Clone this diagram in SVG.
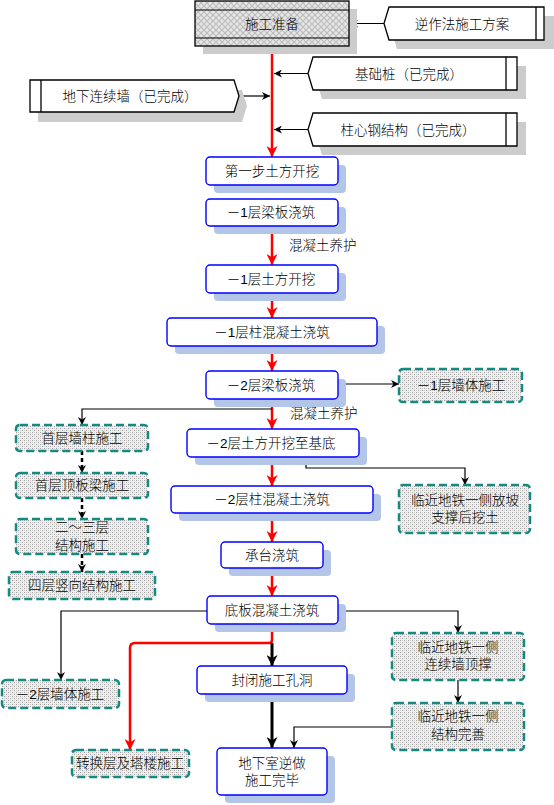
<svg xmlns="http://www.w3.org/2000/svg" width="554" height="805" viewBox="0 0 554 805">
<style>
text{font-family:"Liberation Sans","Noto Sans CJK SC",sans-serif;font-size:13.5px;font-weight:300;fill:#000;text-anchor:middle;dominant-baseline:central}
.lbl{text-anchor:start}
.flag{fill:#fff;stroke:#000;stroke-width:1.3}
.fshadow{fill:#cccccc}
.blue{fill:#fff;stroke:#0000ff;stroke-width:1.4}
.bshadow{fill:#b4c6e7}
.teal{fill:url(#dots);stroke:#138a82;stroke-width:2.5;stroke-dasharray:8 4}
.thin{fill:none;stroke:#000;stroke-width:1.2}
.thick{fill:none;stroke:#000;stroke-width:3}
.dash{fill:none;stroke:#000;stroke-width:2.5;stroke-dasharray:4 3}
.red{fill:none;stroke:#ff0000;stroke-width:2.5}
</style>
<defs>
<pattern id="hatch" width="6" height="6" patternUnits="userSpaceOnUse">
<rect width="6" height="6" fill="#e6e6e6"/>
<path d="M0,0 L6,6 M6,0 L0,6" stroke="#bdbdbd" stroke-width="1.2"/>
</pattern>
<pattern id="dots" width="4" height="4" patternUnits="userSpaceOnUse">
<rect width="4" height="4" fill="#f0f0f0"/>
<rect x="0" y="0" width="1" height="1" fill="#a0a0a0"/>
<rect x="2" y="2" width="1" height="1" fill="#a0a0a0"/>
<rect x="2" y="0" width="1" height="1" fill="#d0d0d0"/>
<rect x="0" y="2" width="1" height="1" fill="#d0d0d0"/>
</pattern>
<marker id="ab" viewBox="0 0 10 10" refX="10" refY="5" markerWidth="8" markerHeight="8" markerUnits="userSpaceOnUse" orient="auto">
<path d="M0,0 L10,5 L0,10 L3,5 z" fill="#000"/>
</marker>
<marker id="abk" viewBox="0 0 10 10" refX="10" refY="5" markerWidth="11" markerHeight="11" markerUnits="userSpaceOnUse" orient="auto">
<path d="M0,0 L10,5 L0,10 L3,5 z" fill="#000"/>
</marker>
<marker id="ar" viewBox="0 0 10 10" refX="10" refY="5" markerWidth="11" markerHeight="11" markerUnits="userSpaceOnUse" orient="auto">
<path d="M0,0 L10,5 L0,10 L3,5 z" fill="#ff0000"/>
</marker>
</defs>

<g id="connectors">
<path class="red" d="M272,46 V157" marker-end="url(#ar)"/>
<path class="thin" d="M384,23.5 H350" marker-end="url(#ab)"/>
<path class="thin" d="M308,73.5 H274" marker-end="url(#ab)"/>
<path class="thin" d="M239,96 H270" marker-end="url(#ab)"/>
<path class="thin" d="M308,129.5 H274" marker-end="url(#ab)"/>
<path class="red" d="M272,226 V265" marker-end="url(#ar)"/>
<path class="red" d="M272,293 V318" marker-end="url(#ar)"/>
<path class="red" d="M272,346 V371" marker-end="url(#ar)"/>
<path class="red" d="M272,399 V429" marker-end="url(#ar)"/>
<path class="red" d="M272,457 V486" marker-end="url(#ar)"/>
<path class="red" d="M272,513 V542" marker-end="url(#ar)"/>
<path class="red" d="M272,568 V596" marker-end="url(#ar)"/>
<path class="thin" d="M338,384 H399" marker-end="url(#ab)"/>
<path class="thin" d="M272,409 H82 V425" marker-end="url(#ab)"/>
<path class="dash" d="M82,451 V473" marker-end="url(#ab)"/>
<path class="dash" d="M82,498 V519" marker-end="url(#ab)"/>
<path class="dash" d="M82,554 V572" marker-end="url(#ab)"/>
<path class="thin" d="M306,457 V468 H465 V485" marker-end="url(#ab)"/>
<path class="thin" d="M207,611 H61 V680" marker-end="url(#ab)"/>
<path class="thin" d="M338,611 H458 V633" marker-end="url(#ab)"/>
<path class="thin" d="M458,680 V703" marker-end="url(#ab)"/>
<path class="thin" d="M392,727 H294 V748" marker-end="url(#ab)"/>
<path class="red" d="M272,624 V640 Q272,643 269,643 H135 Q130,643 130,648 V750" marker-end="url(#ar)"/>
<path class="thick" d="M272,643 V666" marker-end="url(#abk)"/>
<path class="thick" d="M272,694 V748" marker-end="url(#abk)"/>
<text class="lbl" x="289" y="245">混凝土养护</text>
<text class="lbl" x="290" y="413">混凝土养护</text>
</g>

<g id="n-prep">
<rect class="fshadow" x="203" y="9" width="154" height="45"/>
<rect x="195" y="1" width="154" height="45" fill="url(#hatch)" stroke="#000" stroke-width="1.3"/>
<path d="M195,10 H349 M195,38 H349" stroke="#000" stroke-width="1.2"/>
<text x="272" y="24">施工准备</text>
</g>

<g id="n-plan">
<polygon class="fshadow" points="397,16 554,16 554,49 397,49 392,32.5"/>
<polygon class="flag" points="389,7 544,7 544,40 389,40 384,23.5"/>
<path d="M536,7 V40" stroke="#000" stroke-width="1.3"/>
<text x="462" y="24">逆作法施工方案</text>
</g>

<g id="n-pile">
<polygon class="fshadow" points="322,66 526,66 526,99 322,99 317,82.5"/>
<polygon class="flag" points="313,57 517,57 517,90 313,90 308,73.5"/>
<path d="M506,57 V90" stroke="#000" stroke-width="1.3"/>
<text x="409" y="74">基础桩（已完成）</text>
</g>

<g id="n-wall">
<polygon class="fshadow" points="38,90 242,90 247,106 242,122 38,122"/>
<polygon class="flag" points="30,80 234,80 239,96 234,112 30,112"/>
<path d="M41,80 V112" stroke="#000" stroke-width="1.3"/>
<text x="130" y="96">地下连续墙（已完成）</text>
</g>

<g id="n-steel">
<polygon class="fshadow" points="322,122 526,122 526,155 322,155 317,138.5"/>
<polygon class="flag" points="313,113 517,113 517,146 313,146 308,129.5"/>
<path d="M506,113 V146" stroke="#000" stroke-width="1.3"/>
<text x="408" y="130">柱心钢结构（已完成）</text>
</g>

<g id="n-b1">
<rect class="bshadow" x="214" y="165" width="132" height="28" rx="4"/>
<rect class="blue" x="206" y="157" width="132" height="28" rx="4"/>
<text x="272" y="171">第一步土方开挖</text>
</g>
<g id="n-b2">
<rect class="bshadow" x="214" y="207" width="132" height="27" rx="4"/>
<rect class="blue" x="206" y="199" width="132" height="27" rx="4"/>
<text x="271" y="212.5">－1层梁板浇筑</text>
</g>
<g id="n-b3">
<rect class="bshadow" x="214" y="273" width="132" height="28" rx="4"/>
<rect class="blue" x="206" y="265" width="132" height="28" rx="4"/>
<text x="271" y="279">－1层土方开挖</text>
</g>
<g id="n-b4">
<rect class="bshadow" x="175" y="326" width="210" height="28" rx="4"/>
<rect class="blue" x="167" y="318" width="210" height="28" rx="4"/>
<text x="272" y="332">－1层柱混凝土浇筑</text>
</g>
<g id="n-b5">
<rect class="bshadow" x="214" y="379" width="132" height="28" rx="4"/>
<rect class="blue" x="206" y="371" width="132" height="28" rx="4"/>
<text x="271" y="385">－2层梁板浇筑</text>
</g>
<g id="n-b6">
<rect class="bshadow" x="195" y="437" width="172" height="28" rx="4"/>
<rect class="blue" x="187" y="429" width="172" height="28" rx="4"/>
<text x="271" y="443">－2层土方开挖至基底</text>
</g>
<g id="n-b7">
<rect class="bshadow" x="179" y="494" width="202" height="27" rx="4"/>
<rect class="blue" x="171" y="486" width="202" height="27" rx="4"/>
<text x="272" y="499.5">－2层柱混凝土浇筑</text>
</g>
<g id="n-b8">
<rect class="bshadow" x="229" y="550" width="102" height="26" rx="4"/>
<rect class="blue" x="221" y="542" width="102" height="26" rx="4"/>
<text x="272" y="555">承台浇筑</text>
</g>
<g id="n-b9">
<rect class="bshadow" x="215" y="604" width="131" height="28" rx="4"/>
<rect class="blue" x="207" y="596" width="131" height="28" rx="4"/>
<text x="272" y="610">底板混凝土浇筑</text>
</g>
<g id="n-b10">
<rect class="bshadow" x="205" y="674" width="150" height="28" rx="4"/>
<rect class="blue" x="197" y="666" width="150" height="28" rx="4"/>
<text x="272" y="680">封闭施工孔洞</text>
</g>
<g id="n-b11">
<rect class="bshadow" x="225" y="756" width="110" height="47" rx="4"/>
<rect class="blue" x="217" y="748" width="110" height="47" rx="4"/>
<text x="272" y="763">地下室逆做</text>
<text x="272" y="780">施工完毕</text>
</g>

<g id="n-t1">
<rect class="teal" x="399" y="369" width="123" height="33" rx="4"/>
<text x="461" y="385">－1层墙体施工</text>
</g>
<g id="n-t2">
<rect class="teal" x="16" y="425" width="132" height="26" rx="4"/>
<text x="82" y="438">首层墙柱施工</text>
</g>
<g id="n-t3">
<rect class="teal" x="16" y="473" width="132" height="25" rx="4"/>
<text x="82" y="485.5">首层顶板梁施工</text>
</g>
<g id="n-t4">
<rect class="teal" x="16" y="519" width="132" height="35" rx="4"/>
<text x="82" y="527">二～三层</text>
<text x="82" y="545">结构施工</text>
</g>
<g id="n-t5">
<rect class="teal" x="9" y="572" width="146" height="27" rx="4"/>
<text x="82" y="585">四层竖向结构施工</text>
</g>
<g id="n-t6">
<rect class="teal" x="399" y="485" width="131" height="48" rx="4"/>
<text x="465" y="500">临近地铁一侧放坡</text>
<text x="465" y="517">支撑后挖土</text>
</g>
<g id="n-t7">
<rect class="teal" x="2" y="680" width="117" height="28" rx="4"/>
<text x="60" y="694">－2层墙体施工</text>
</g>
<g id="n-t8">
<rect class="teal" x="72" y="750" width="117" height="27" rx="4"/>
<text x="130" y="763">转换层及塔楼施工</text>
</g>
<g id="n-t9">
<rect class="teal" x="392" y="633" width="132" height="47" rx="4"/>
<text x="458" y="647">临近地铁一侧</text>
<text x="458" y="664">连续墙顶撑</text>
</g>
<g id="n-t10">
<rect class="teal" x="392" y="703" width="132" height="47" rx="4"/>
<text x="458" y="716">临近地铁一侧</text>
<text x="458" y="734">结构完善</text>
</g>
</svg>
